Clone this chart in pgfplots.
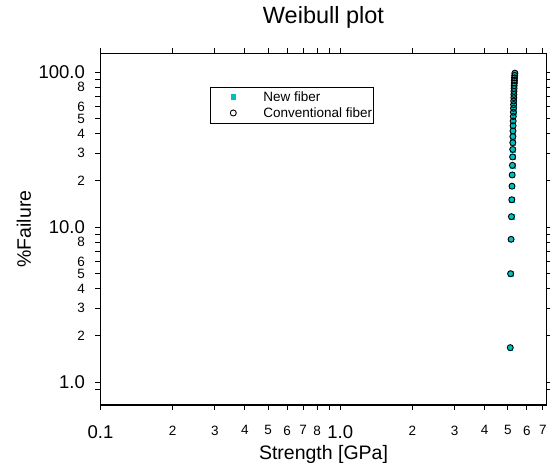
\documentclass[border=0pt]{standalone}
\usepackage{pgfplots}
\pgfplotsset{compat=1.18}
\usepackage{fontspec}
\setmainfont{Liberation Sans}
\definecolor{newc}{RGB}{0,191,191}
\newcommand{\MJ}[1]{{\fontsize{18.5}{18.5}\selectfont #1}}
\newcommand{\MN}[1]{{\fontsize{13.5}{13.5}\selectfont #1}}
\begin{document}
\begin{tikzpicture}
\useasboundingbox (0pt,0pt) rectangle (550pt,-463pt);
\begin{axis}[
  at={(100.5pt,-405pt)}, anchor=south west,
  scale only axis, width=446pt, height=352pt,
  xmode=log, ymode=log,
  xmin=0.1, xmax=7.25, ymin=0.711, ymax=132.6,
  /pgf/number format/assume math mode=true,
  xtick={0.1,0.2,0.3,0.4,0.5,0.6,0.7,0.8,0.9,1,2,3,4,5,6,7},
  xticklabels={\MJ{0.1},\MN{2},\MN{3},\MN{4},\MN{5},\MN{6},\MN{7},\MN{8},,\MJ{1.0},\MN{2},\MN{3},\MN{4},\MN{5},\MN{6},\MN{7}},
  ytick={0.9,1,2,3,4,5,6,7,8,9,10,20,30,40,50,60,70,80,90,100},
  yticklabels={,\MJ{1.0},\MN{2},\MN{3},\MN{4},\MN{5},\MN{6},,\MN{8},,\MJ{10.0},\MN{2},\MN{3},\MN{4},\MN{5},\MN{6},,\MN{8},,\MJ{100.0}},
  minor xtick={}, minor ytick={},
  tick align=outside, major tick length=5pt,
  tick style={black, line width=0.8pt},
  xtick pos=both, xticklabel pos=bottom, ytick pos=both, yticklabel pos=left,
  axis line style={line width=0.9pt},
  xticklabel style={anchor=north, inner sep=0pt, yshift=-15.5pt},
  yticklabel style={anchor=east, inner sep=0pt, xshift=-10.5pt},
  title={Weibull plot},
  title style={at={(axis description cs:0.5,1)}, anchor=base, yshift=24pt, font=\fontsize{23.5}{23.5}\selectfont, inner sep=0pt},
  xlabel={Strength [GPa]},
  ylabel={\%Failure},
  every axis x label/.style={at={(axis description cs:0.5,0)}, anchor=base, yshift=-54pt, font=\fontsize{19.5}{19.5}\selectfont, inner sep=0pt},
  every axis y label/.style={at={(axis description cs:0,0.5)}, anchor=base, rotate=90, yshift=69.5pt, font=\fontsize{19.5}{19.5}\selectfont, inner sep=0pt},
  legend style={at={(0.2455,0.9034)}, anchor=north west, draw=black, line width=0.6pt,
    inner xsep=1pt, inner ysep=2.25pt, row sep=0.5pt,
    nodes={inner xsep=0pt, inner ysep=2pt, font=\fontsize{13.5}{13.5}\selectfont}},
  legend cell align=left,
  legend image code/.code={\path[draw=none] (0pt,0pt) -- (52pt,0pt); \draw[#1] plot coordinates {(22pt,0pt)};},
  clip=false,
]
\addplot[only marks, mark=square*, mark size=2.4pt, color=newc, mark options={draw=newc, fill=newc}]
coordinates {
(5.120,1.667) (5.135,5.000) (5.160,8.333) (5.175,11.667) (5.195,15.000)
(5.205,18.333) (5.215,21.667) (5.225,25.000) (5.235,28.333) (5.240,31.667)
(5.245,35.000) (5.250,38.333) (5.255,41.667) (5.260,45.000) (5.265,48.333)
(5.270,51.667) (5.275,55.000) (5.280,58.333) (5.285,61.667) (5.290,65.000)
(5.295,68.333) (5.300,71.667) (5.305,75.000) (5.310,78.333) (5.315,81.667)
(5.320,85.000) (5.325,88.333) (5.330,91.667) (5.340,95.000) (5.350,98.333)
};
\addlegendentry{New fiber}
\addplot[only marks, mark=o, mark size=3pt, color=black, mark options={line width=0.9pt}]
coordinates {
(5.120,1.667) (5.135,5.000) (5.160,8.333) (5.175,11.667) (5.195,15.000)
(5.205,18.333) (5.215,21.667) (5.225,25.000) (5.235,28.333) (5.240,31.667)
(5.245,35.000) (5.250,38.333) (5.255,41.667) (5.260,45.000) (5.265,48.333)
(5.270,51.667) (5.275,55.000) (5.280,58.333) (5.285,61.667) (5.290,65.000)
(5.295,68.333) (5.300,71.667) (5.305,75.000) (5.310,78.333) (5.315,81.667)
(5.320,85.000) (5.325,88.333) (5.330,91.667) (5.340,95.000) (5.350,98.333)
};
\addlegendentry{Conventional fiber}
\draw[line width=1.8pt] (rel axis cs:0,0) -- (rel axis cs:1,0);
\end{axis}
\end{tikzpicture}
\end{document}
